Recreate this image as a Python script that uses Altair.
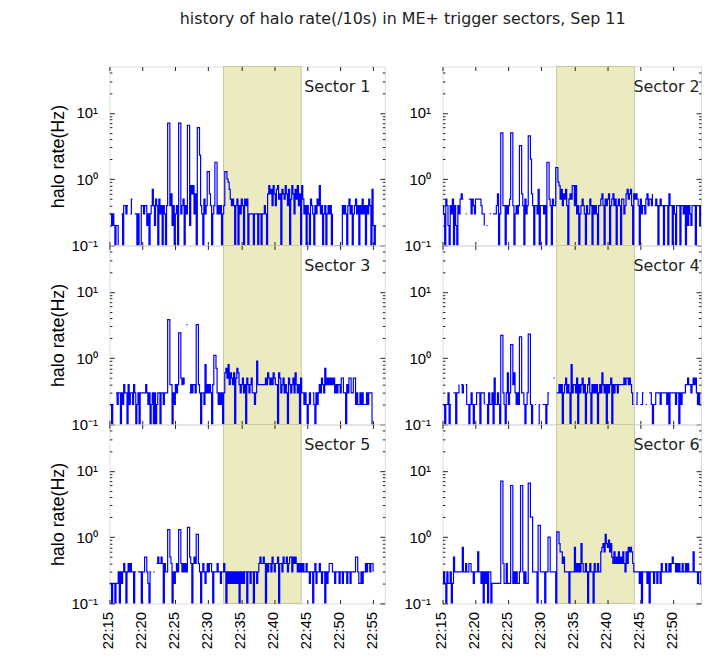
import altair as alt
import pandas as pd
import numpy as np

TITLE = "history of halo rate(/10s) in ME+ trigger sectors, Sep 11"
Y_TITLE = "halo rate(Hz)"
SECTORS = ["Sector 1", "Sector 2", "Sector 3", "Sector 4", "Sector 5", "Sector 6"]
T0 = 15.0          # minutes after 22:00 of first 10 s bin
BINS_PER_MIN = 6   # 10 s bins

# counts per 10 s bin (rate = count / 10 Hz); 0 = no entry
S1 = [3,3,2,3,2,1,2,2,1,0, 0,3,1,4,4,3,4,4,0,3, 5,5,0,3,3,1,3,1,1,4, 4,3,4,4,2,3,1,3,4,7,
      4,2,5,4,1,5,3,4,1,4, 3,1,4,70,70,4,6,2,4,1, 3,4,1,70,70,3,4,5,1,4, 3,65,65,2,8,6,8,3,6,1,
      60,60,23,4,3,1,5,3,4,13, 13,6,4,1,3,4,18,18,3,4, 3,4,1,3,4,13,13,10,9,7, 5,4,5,4,1,4,5,1,4,3,
      5,4,1,5,4,5,1,3,3,3, 3,1,3,3,3,1,3,3,1,3, 3,4,3,1,6,8,6,7,4,8, 6,4,7,8,5,6,1,7,6,5,
      8,6,4,7,1,5,8,6,3,7, 5,8,4,6,1,8,5,3,4,1, 4,3,1,5,4,3,1,4,3,5, 4,8,3,4,1,3,4,1,3,4,
      3,4,1,3,0,1,1,1,1,1, 1,1,4,3,4,3,1,4,5,3, 4,1,3,4,5,3,4,1,4,3, 5,3,4,1,4,3,5,4,1,7,
      2,1,2,2]
S2 = [4,3,1,5,4,2,1,4,3,5, 1,4,2,1,4,3,5,6,5,5, 0,3,3,0,5,5,3,5,4,3, 5,5,5,5,5,4,3,3,2,0,
      2,2,0,3,3,0,3,3,3,4, 6,1,3,50,50,4,4,1,4,3, 4,5,50,50,4,1,3,4,3,4, 32,32,6,4,1,5,3,4,45,45,
      20,6,4,1,4,4,3,7,1,4, 4,4,3,4,1,18,18,5,4,1, 5,4,4,15,15,9,8,5,7,4, 6,5,7,4,1,5,6,5,8,8,
      4,8,3,4,1,3,4,5,4,3, 1,4,3,3,5,4,1,4,3,4, 3,1,4,4,5,6,4,1,5,4, 5,6,1,4,5,6,4,5,1,4,
      5,4,1,5,5,3,4,6,7,5, 6,7,4,1,6,5,6,5,4,1, 5,3,4,4,3,5,6,4,5,5, 4,6,0,4,5,4,1,4,5,4,
      4,1,4,4,4,1,6,4,4,1, 4,3,1,4,4,4,1,4,4,3, 4,1,4,2,4,3,2,4,4,4, 1,4,4,4,2,4,2,2,2,2,
      2,2,2,2]
S3 = [2,2,1,2,2,0,3,2,3,3, 1,3,2,4,3,3,1,4,2,3, 3,2,4,3,1,2,3,1,3,3, 3,3,3,4,3,2,3,1,2,3,
      1,3,1,2,3,3,1,3,3,2, 3,3,3,38,38,4,4,1,3,2, 4,3,4,24,24,5,4,5,4,0, 32,32,0,3,4,3,4,4,3,32,
      32,4,3,1,3,3,2,8,3,4, 3,4,3,1,4,11,11,7,3,2, 3,2,3,1,3,6,7,5,8,4, 6,5,4,6,1,5,7,6,4,3,
      4,5,3,4,1,5,4,3,4,5, 3,3,2,3,9,4,4,4,4,4, 4,4,5,4,6,5,4,5,4,6, 5,4,4,1,6,5,3,4,5,3,
      4,3,1,5,4,3,4,5,3,6, 4,3,4,1,5,3,3,2,3,2, 1,2,3,2,0,3,2,1,3,2, 3,4,3,5,4,3,7,4,5,4,
      5,4,5,4,5,3,4,3,4,4, 3,5,5,3,3,1,4,3,5,5, 3,3,5,5,2,3,2,2,3,2, 3,2,2,2,3,2,3,3,3,1,
      1,1,0,0]
S4 = [2,2,1,2,2,3,1,2,2,0, 3,3,1,3,3,4,0,4,3,4, 0,4,2,2,1,2,3,2,1,2, 2,3,3,3,1,3,3,3,2,0,
      2,1,3,2,2,3,1,5,2,2, 3,2,1,22,22,3,2,1,3,6, 2,3,16,16,4,6,3,2,3,2, 21,21,3,3,2,1,2,3,23,23,
      2,1,2,0,2,2,0,1,2,2, 0,2,2,2,1,2,3,3,0,1, 0,5,5,0,3,3,4,3,4,1, 3,4,5,3,4,3,1,8,3,4,
      4,3,5,1,4,3,4,5,3,4, 1,3,4,5,3,1,4,3,4,3, 4,1,3,4,3,6,4,3,4,1, 4,3,4,5,1,4,3,4,4,3,
      4,4,4,4,4,5,4,5,5,4, 5,4,3,2,2,0,2,3,3,0, 2,2,3,3,0,2,2,0,3,3, 2,1,2,2,3,3,3,3,2,3,
      3,3,3,3,2,3,1,3,3,3, 3,3,2,3,3,1,3,2,3,3, 3,4,4,5,4,4,3,4,5,4, 5,3,2,3,2,2,3,2,2,2,
      2,2,2,2]
S5 = [2,2,1,2,2,1,2,2,3,1, 3,2,3,4,3,1,3,4,3,4, 3,3,1,3,3,0,3,3,3,1, 3,3,5,5,3,2,1,3,3,0,
      3,3,0,4,5,4,4,5,4,1, 4,3,3,13,13,5,4,1,3,2, 3,4,3,13,13,4,3,4,3,4, 3,14,14,5,4,1,4,5,4,11,
      11,4,3,1,3,4,3,2,3,4, 3,4,4,3,1,3,3,3,4,3, 3,2,3,3,4,3,1,3,2,3, 2,3,2,3,2,3,2,3,1,3,
      2,3,2,3,3,1,3,3,2,3, 3,1,3,3,2,3,4,5,4,4, 5,4,1,4,3,4,4,3,5,4, 3,4,4,5,1,4,4,3,5,4,
      4,5,3,4,5,5,3,5,4,5, 4,3,4,3,4,3,4,3,3,4, 3,3,2,3,3,1,3,4,2,3, 3,4,3,2,3,3,1,3,2,3,
      4,4,4,3,3,2,3,3,3,2, 3,3,2,3,3,3,2,3,3,2, 3,3,3,3,5,5,3,2,2,3, 2,3,3,4,3,4,4,3,4,4,
      3,0,0,0]
S6 = [2,3,2,1,3,2,2,3,1,2, 5,3,3,3,3,3,3,3,7,3, 3,4,3,3,4,4,3,3,2,3, 3,3,6,3,3,2,3,1,3,2,
      3,1,3,3,1,2,2,2,2,2, 2,2,2,70,70,4,2,2,4,2, 2,2,60,60,2,3,2,3,2,2, 3,60,60,3,2,3,2,2,65,65,
      20,20,3,3,3,3,1,15,15,3, 3,3,3,1,3,3,10,10,3,3, 3,3,3,1,12,12,8,6,6,4, 5,3,3,3,3,1,3,3,3,3,
      7,3,4,3,4,3,8,4,3,3, 4,3,1,3,4,3,3,1,4,3, 3,4,3,3,6,7,8,6,11,8, 7,9,6,8,5,4,6,4,5,4,
      6,4,5,4,6,4,3,6,4,7, 6,7,6,4,3,3,3,3,3,2, 3,1,3,3,3,3,2,3,1,3, 3,3,2,3,3,2,3,3,2,4,
      3,3,3,4,3,3,4,3,4,5, 4,4,3,4,3,4,3,3,4,3, 3,4,3,4,3,3,3,3,6,3, 3,3,2,3,3,2,3,2,3,2,
      2,3,2,2]
SERIES = [S1, S2, S3, S4, S5, S6]

SHADE = [32.3, 44.1]                 # beam period, minutes after 22:00
X_TICKS = [15, 20, 25, 30, 35, 40, 45, 50, 55]
Y_MAJOR = [0.1, 1, 10]
Y_MINOR = [0.2, 0.3, 0.4, 0.5, 0.6, 0.7, 0.8, 0.9, 2, 3, 4, 5, 6, 7, 8, 9, 20, 30, 40]
Y_DOMAIN = [0.1, 50]
X_DOMAINS = [[15, 56.78], [15, 54.2]]   # right column is cut off, as in the original screenshot
WIDTHS = [277, 260]
HEIGHT = 180
LABEL_T = [54.6, 54.0]
LABEL_RATE = 20.5

FONT = "DejaVu Sans"
INK = "#222222"
LINE = "#0000ff"
SHADE_FILL = "#ecebbf"
SHADE_EDGE = "#c9c79b"

SUP = "datum.value >= 5 ? '10\u00b9' : datum.value >= 0.5 ? '10\u2070' : '10\u207b\u00b9'"
XLAB = "'22:' + format(datum.value, '02d')"


def panel(i):
    col = i % 2
    bottom = i >= 4
    counts = SERIES[i]
    xs = alt.Scale(domain=X_DOMAINS[col], nice=False, zero=False)
    ys = alt.Scale(type="log", domain=Y_DOMAIN, nice=False)
    df = pd.DataFrame({
        "t": T0 + np.arange(len(counts)) / BINS_PER_MIN,
        "rate": [c / 10 if c > 0 else np.nan for c in counts],
    })
    shade_df = pd.DataFrame({"x0": [SHADE[0]], "x1": [SHADE[1]]})
    lab_df = pd.DataFrame({"t": [LABEL_T[col]], "r": [LABEL_RATE], "label": [SECTORS[i]]})
    dom_df = pd.DataFrame({"t": [X_DOMAINS[col][0]] * 2, "r": Y_DOMAIN})

    x_top = alt.Axis(orient="top", values=X_TICKS, tickSize=4, offset=-4, domain=False,
                     grid=False, labels=False, title=None, zindex=1, tickColor=INK)
    x_bot = alt.Axis(orient="bottom", values=X_TICKS, tickSize=4, offset=-4, domain=False,
                     grid=False, labels=bottom, labelAngle=270, labelExpr=XLAB,
                     labelPadding=8, labelOffset=-2, labelFlush=False, labelFontSize=15,
                     title=None, zindex=1, tickColor=INK)
    y_left = alt.Axis(orient="left", values=Y_MAJOR, tickSize=5, offset=-5, domain=False,
                      grid=False, labelExpr=SUP, labelPadding=12, labelFontSize=15,
                      title=Y_TITLE if col == 0 else None, titleFontSize=18,
                      titleFontWeight="normal", titlePadding=3, zindex=1, tickColor=INK)
    y_right = alt.Axis(orient="right", values=Y_MAJOR, tickSize=5, offset=-5, domain=False,
                       grid=False, labels=False, title=None, zindex=1, tickColor=INK)
    y_lmin = alt.Axis(orient="left", values=Y_MINOR, tickSize=2.5, offset=-2.5, domain=False,
                      grid=False, labels=False, title=None, zindex=1, tickColor=INK)
    y_rmin = alt.Axis(orient="right", values=Y_MINOR, tickSize=2.5, offset=-2.5, domain=False,
                      grid=False, labels=False, title=None, zindex=1, tickColor=INK)

    shade = alt.Chart(shade_df).mark_rect(fill=SHADE_FILL, stroke=SHADE_EDGE, strokeWidth=1).encode(
        x=alt.X("x0:Q", scale=xs, axis=x_top), x2="x1:Q")
    line = alt.Chart(df).mark_line(interpolate="step-after", color=LINE, strokeWidth=1.2,
                                   clip=True, invalid="break-paths-show-domains").encode(
        x=alt.X("t:Q", scale=xs, axis=x_bot),
        y=alt.Y("rate:Q", scale=ys, axis=y_left))
    lmin = alt.Chart(dom_df).mark_point(opacity=0).encode(
        x=alt.X("t:Q", scale=xs, axis=None), y=alt.Y("r:Q", scale=ys, axis=y_lmin))
    rmin = alt.Chart(dom_df).mark_point(opacity=0).encode(
        x=alt.X("t:Q", scale=xs, axis=None), y=alt.Y("r:Q", scale=ys, axis=y_rmin))
    text = alt.Chart(lab_df).mark_text(align="right", baseline="alphabetic", fontSize=16,
                                       font=FONT, color=INK).encode(
        x=alt.X("t:Q", scale=xs, axis=None),
        y=alt.Y("r:Q", scale=ys, axis=y_right),
        text="label:N")
    return alt.layer(shade, line, lmin, rmin, text).resolve_axis(
        x="independent", y="independent").properties(width=WIDTHS[col], height=HEIGHT)


chart = alt.concat(*[panel(i) for i in range(6)], columns=2,
                   spacing={"row": 0, "column": 58}, bounds="flush").properties(
    title=alt.TitleParams(TITLE, fontSize=16, font=FONT, fontWeight="normal", color=INK,
                          anchor="middle", dx=27, offset=37),
    padding={"left": 41, "top": 0, "right": 0, "bottom": 0},
).configure_view(stroke="#333333", strokeWidth=1).configure_axis(
    labelFont=FONT, titleFont=FONT, labelColor=INK, titleColor=INK
).configure(background="white")

chart.save("out.html", embed_options={"renderer": "svg", "actions": False})
